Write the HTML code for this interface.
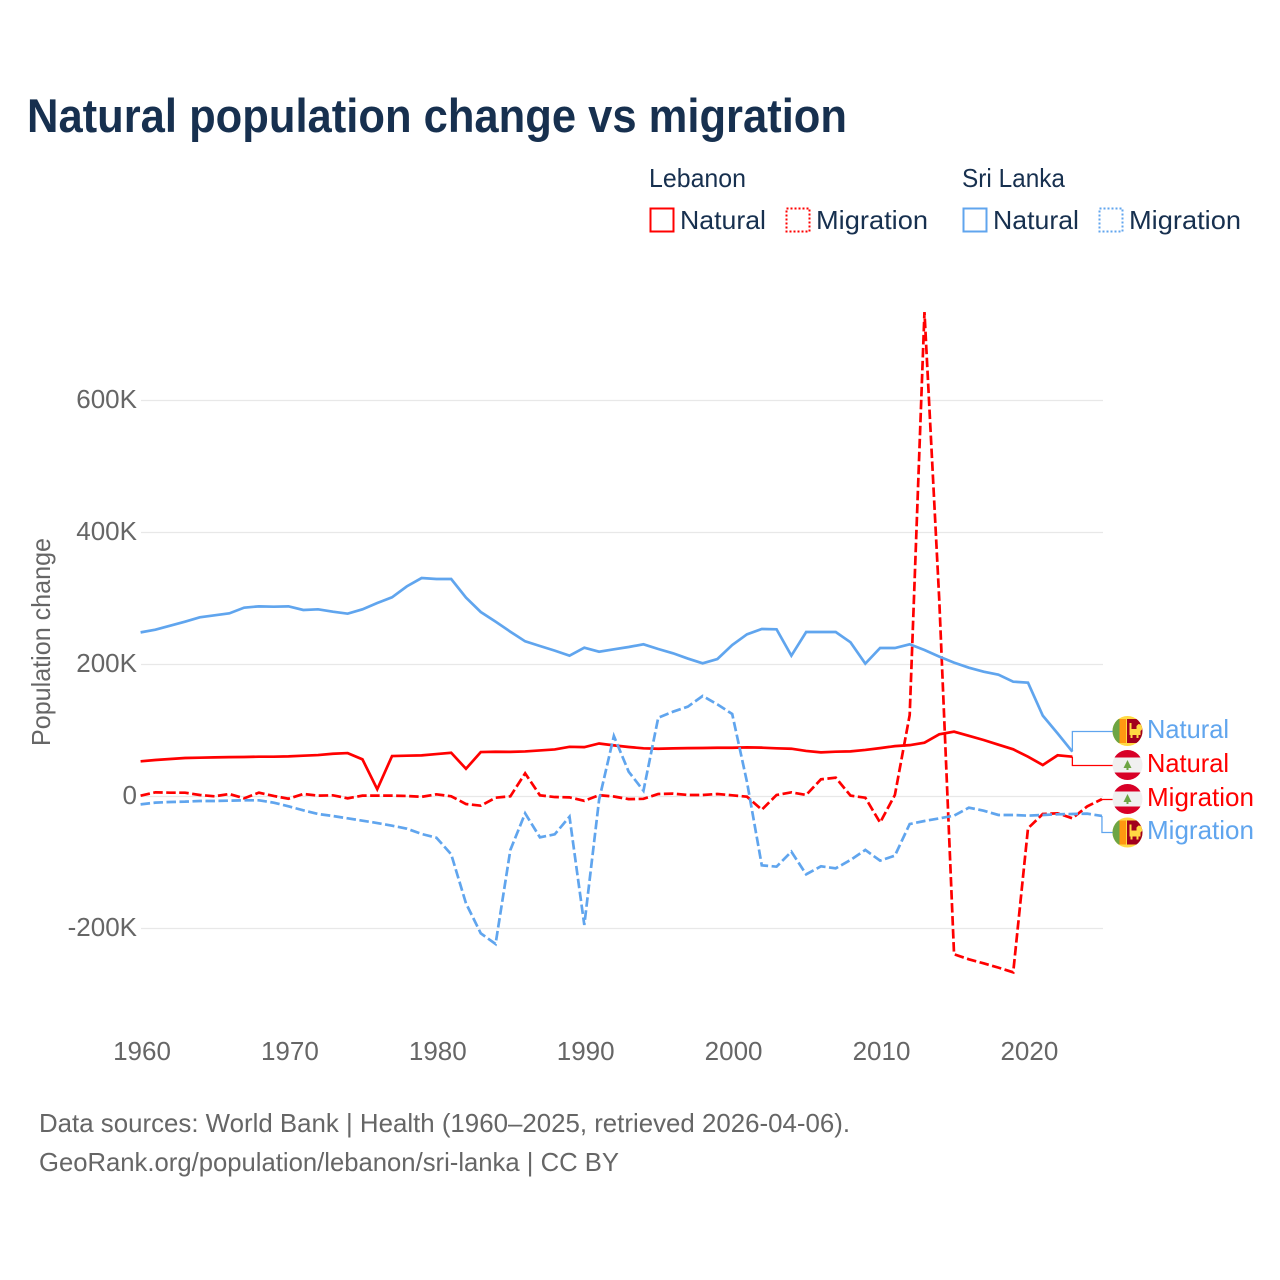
<!DOCTYPE html>
<html lang="en">
<head>
<meta charset="utf-8">
<title>Natural population change vs migration</title>
<style>
html,body{margin:0;padding:0;background:#fff;}
svg{display:block;font-family:"Liberation Sans",sans-serif;}
.tick{font-size:26px;fill:#666;}
.legend{font-size:26px;fill:#17304f;}
.foot{font-size:26px;fill:#666;}
.end{font-size:26px;}
</style>
</head>
<body>
<svg id="chart" width="1280" height="1280" viewBox="0 0 1280 1280" xmlns="http://www.w3.org/2000/svg">
  <defs>
    <clipPath id="flag-clip"><circle cx="0" cy="0" r="15"></circle></clipPath>
    <g id="flag-lk">
      <g clip-path="url(#flag-clip)">
        <rect x="-15" y="-15" width="30" height="30" fill="#ffda44"></rect>
        <rect x="-15" y="-12" width="7" height="24" fill="#6da544"></rect>
        <rect x="-8" y="-12" width="6.5" height="24" fill="#ff9811"></rect>
        <rect x="-0.5" y="-12" width="16" height="24" fill="#a2001d"></rect>
        <path d="M2 -8h2v6h5v-3l2 -2 4 1v4l-2 2v4h-2v3h-2v-3h-4v3h-2v-3h-1z" fill="#ffda44"></path>
      </g>
    </g>
    <g id="flag-lb">
      <g clip-path="url(#flag-clip)">
        <rect x="-15" y="-15" width="30" height="30" fill="#f0f0f0"></rect>
        <rect x="-15" y="-15" width="30" height="7.5" fill="#d80027"></rect>
        <rect x="-15" y="7.5" width="30" height="7.5" fill="#d80027"></rect>
        <path d="M0 -5l4 8h-3v2h-2v-2h-3z" fill="#6da544"></path>
      </g>
    </g>
  </defs>

  <rect x="0" y="0" width="1280" height="1280" fill="#fff"></rect>

  <text x="27" y="132" font-size="47" font-weight="700" fill="#17304f" textLength="820" lengthAdjust="spacingAndGlyphs">Natural population change vs migration</text>

  <g>
    <text class="legend" x="649" y="187" textLength="97" lengthAdjust="spacingAndGlyphs">Lebanon</text>
    <text class="legend" x="962" y="187" textLength="103" lengthAdjust="spacingAndGlyphs">Sri Lanka</text>
    <g>
      <rect x="650.5" y="208.5" width="23" height="23" fill="none" stroke="#ff0000" stroke-width="2"></rect>
      <text class="legend" x="680" y="229" textLength="86" lengthAdjust="spacingAndGlyphs">Natural</text>
    </g>
    <g>
      <rect x="786.5" y="208.5" width="23" height="23" fill="none" stroke="#ff0000" stroke-width="2" stroke-dasharray="2 2"></rect>
      <text class="legend" x="816" y="229" textLength="112" lengthAdjust="spacingAndGlyphs">Migration</text>
    </g>
    <g>
      <rect x="963.5" y="208.5" width="23" height="23" fill="none" stroke="#60a5ee" stroke-width="2"></rect>
      <text class="legend" x="993" y="229" textLength="86" lengthAdjust="spacingAndGlyphs">Natural</text>
    </g>
    <g>
      <rect x="1099.5" y="208.5" width="23" height="23" fill="none" stroke="#60a5ee" stroke-width="2" stroke-dasharray="2 2"></rect>
      <text class="legend" x="1129" y="229" textLength="112" lengthAdjust="spacingAndGlyphs">Migration</text>
    </g>
  </g>

  <text class="tick" transform="translate(50,746) rotate(-90)" x="0" y="0" textLength="208" lengthAdjust="spacingAndGlyphs">Population change</text>

  <g id="grid"></g>
  <g id="ylabels"></g>
  <g id="xlabels"></g>
  <g id="series"></g>
  <g id="connectors"></g>

  <g>
    <use href="#flag-lk" x="1127.5" y="731"></use>
    <text class="end" x="1147" y="738" fill="#60a5ee" textLength="82" lengthAdjust="spacingAndGlyphs">Natural</text>
  </g>
  <g>
    <use href="#flag-lb" x="1127.5" y="765"></use>
    <text class="end" x="1147" y="772" fill="#ff0000" textLength="82" lengthAdjust="spacingAndGlyphs">Natural</text>
  </g>
  <g>
    <use href="#flag-lb" x="1127.5" y="799"></use>
    <text class="end" x="1147" y="806" fill="#ff0000" textLength="107" lengthAdjust="spacingAndGlyphs">Migration</text>
  </g>
  <g>
    <use href="#flag-lk" x="1127.5" y="832.5"></use>
    <text class="end" x="1147" y="839" fill="#60a5ee" textLength="107" lengthAdjust="spacingAndGlyphs">Migration</text>
  </g>

  <g>
    <text class="foot" x="39" y="1132" textLength="811" lengthAdjust="spacingAndGlyphs">Data sources: World Bank | Health (1960–2025, retrieved 2026-04-06).</text>
    <text class="foot" x="39" y="1171" textLength="580" lengthAdjust="spacingAndGlyphs">GeoRank.org/population/lebanon/sri-lanka | CC BY</text>
  </g>
</svg>
<script>
const years = [
  1960,1961,1962,1963,1964,1965,1966,1967,1968,1969,
  1970,1971,1972,1973,1974,1975,1976,1977,1978,1979,
  1980,1981,1982,1983,1984,1985,1986,1987,1988,1989,
  1990,1991,1992,1993,1994,1995,1996,1997,1998,1999,
  2000,2001,2002,2003,2004,2005,2006,2007,2008,2009,
  2010,2011,2012,2013,2014,2015,2016,2017,2018,2019,
  2020,2021,2022,2023,2024,2025
];
const lebanonNatural = [
  53.3,55.3,56.8,58.3,58.8,59.3,59.6,59.8,60.3,60.3,
  60.8,61.8,62.8,64.8,65.8,56.3,11,61.3,61.8,62.3,
  64.3,66.3,42,67.3,67.8,67.6,68.3,69.8,71.3,75.3,
  74.8,80.3,77.5,75,73,72.4,72.9,73.3,73.5,73.9,
  73.9,74.4,74,73,72.4,69,66.9,67.9,68.4,70.5,
  73.3,76.3,77.8,81.5,94.2,98.2,92,85.6,78.5,71.5,
  60.3,47.7,62.4,60.3
];
const lebanonMigration = [
  1.3,6.3,5.8,5.8,2.3,0.3,3.8,-2.8,5.8,0.8,
  -3.3,3.8,1.3,1.8,-2.8,1.3,1.3,1.3,0.8,-0.5,
  3.3,0.3,-11.4,-13.9,-1.8,0.3,35.1,1.8,-0.8,-1.3,
  -6.6,2,0,-4,-3.5,3.8,4.3,2.3,2.3,3.8,
  1.8,-0.3,-20,2.3,6.3,2.3,26,28.5,1.3,-1.8,
  -39.5,2.3,123.4,734,298,-239,-246.7,-252.8,-259.3,-266.4,
  -48.2,-26.5,-25.5,-33,-15,-4
];
const sriLankaNatural = [
  248.7,252.8,258.8,264.9,271.5,274.5,277.5,286.1,288.1,287.6,
  288.1,282.6,283.6,280,277,283.6,293.2,301.8,318.4,331,
  329.5,329.5,301.3,279.5,264.9,249.7,235.1,228,221,213.4,
  225.5,219.4,223,226.5,230.6,223.5,217,209,201.8,208.3,
  229.5,245.7,253.8,253.3,213.4,249.2,249.2,249.2,233.6,201.3,
  225,225,230.6,222,211.9,202.8,195.2,189.1,184.6,174,
  172.5,122.5,95.7,67.9
];
const sriLankaMigration = [
  -11.9,-9.3,-8.3,-7.8,-6.8,-6.8,-6.3,-5.8,-5.8,-9.3,
  -14.9,-21,-26.5,-29.5,-33.1,-36.6,-40.2,-44.2,-48.7,-56.8,
  -62.4,-87.6,-161.9,-207.3,-223.5,-81,-25.5,-61.9,-57.3,-30.6,
  -194.7,-5,91.7,37.6,8.8,119.4,128.5,136.1,152.3,139.6,
  125,22,-104.3,-106.3,-83.6,-117.9,-105.8,-108.8,-96.2,-81,
  -97.2,-89.6,-41.7,-37.1,-33.1,-29,-16.9,-21.5,-28,-28,
  -29,-28,-27,-26.5,-26,-29.5
];
const yTickValues = [600,400,200,0,-200];
const yTickLabels = ['600K','400K','200K','0','-200K'];
const xTickValues = [1960,1970,1980,1990,2000,2010,2020];
const xTickLabels = ['1960','1970','1980','1990','2000','2010','2020'];

const NS = 'http://www.w3.org/2000/svg';
const RED = '#ff0000';
const BLUE = '#60a5ee';

function xScale(year){ return 140.6 + (year - 1960) * 14.79; }
function yScale(k){ return 796.5 - k * 0.66; }

function make(parent, tag, attrs){
  const el = document.createElementNS(NS, tag);
  for (const key in attrs) el.setAttribute(key, attrs[key]);
  parent.appendChild(el);
  return el;
}

const grid = document.getElementById('grid');
const ylabels = document.getElementById('ylabels');
const xlabels = document.getElementById('xlabels');
const seriesLayer = document.getElementById('series');
const connectors = document.getElementById('connectors');

yTickValues.forEach(function(v, i){
  const line = make(grid, 'line', {x1: 141, x2: 1103, y1: yScale(v), y2: yScale(v), stroke: '#e8e8e8', 'stroke-width': 1.3});
  
  
  const t = make(ylabels, 'text', {x: 137, y: yScale(v) + 7.5, 'text-anchor': 'end', 'class': 'tick'});
  
  
  t.textContent = yTickLabels[i];
});

xTickValues.forEach(function(v, i){
  const t = make(xlabels, 'text', {x: xScale(v) + 1.4, y: 1060, 'text-anchor': 'middle', 'class': 'tick'});
  
  
  t.textContent = xTickLabels[i];
});

function pathFor(values){
  return values.map(function(v, i){
    return (i ? 'L' : 'M') + xScale(years[i]).toFixed(2) + ' ' + yScale(v).toFixed(2);
  }).join(' ');
}

function drawSeries(values, color, dashed, name){
  const attrs = {d: pathFor(values), fill: 'none', stroke: color, 'stroke-width': 2.7, 'stroke-linejoin': 'miter'};
  if (dashed) attrs['stroke-dasharray'] = '9.5 3.5';
  const p = make(seriesLayer, 'path', attrs);
  
  
}

drawSeries(lebanonNatural, RED, false, 'line-lebanon-natural');
drawSeries(lebanonMigration, RED, true, 'line-lebanon-migration');
drawSeries(sriLankaNatural, BLUE, false, 'line-sri-lanka-natural');
drawSeries(sriLankaMigration, BLUE, true, 'line-sri-lanka-migration');

function drawConnector(values, labelY, color, name){
  const last = values.length - 1;
  const x = xScale(years[last]);
  const y = yScale(values[last]);
  const p = make(connectors, 'path', {d: 'M' + x + ' ' + y + ' V' + labelY + ' H1113', fill: 'none', stroke: color, 'stroke-width': 1.3});
  
  
}

drawConnector(sriLankaNatural, 731.5, BLUE, 'connector-sri-lanka-natural');
drawConnector(lebanonNatural, 765.5, RED, 'connector-lebanon-natural');
drawConnector(lebanonMigration, 799.5, RED, 'connector-lebanon-migration');
drawConnector(sriLankaMigration, 832.5, BLUE, 'connector-sri-lanka-migration');
</script>
</body>
</html>
